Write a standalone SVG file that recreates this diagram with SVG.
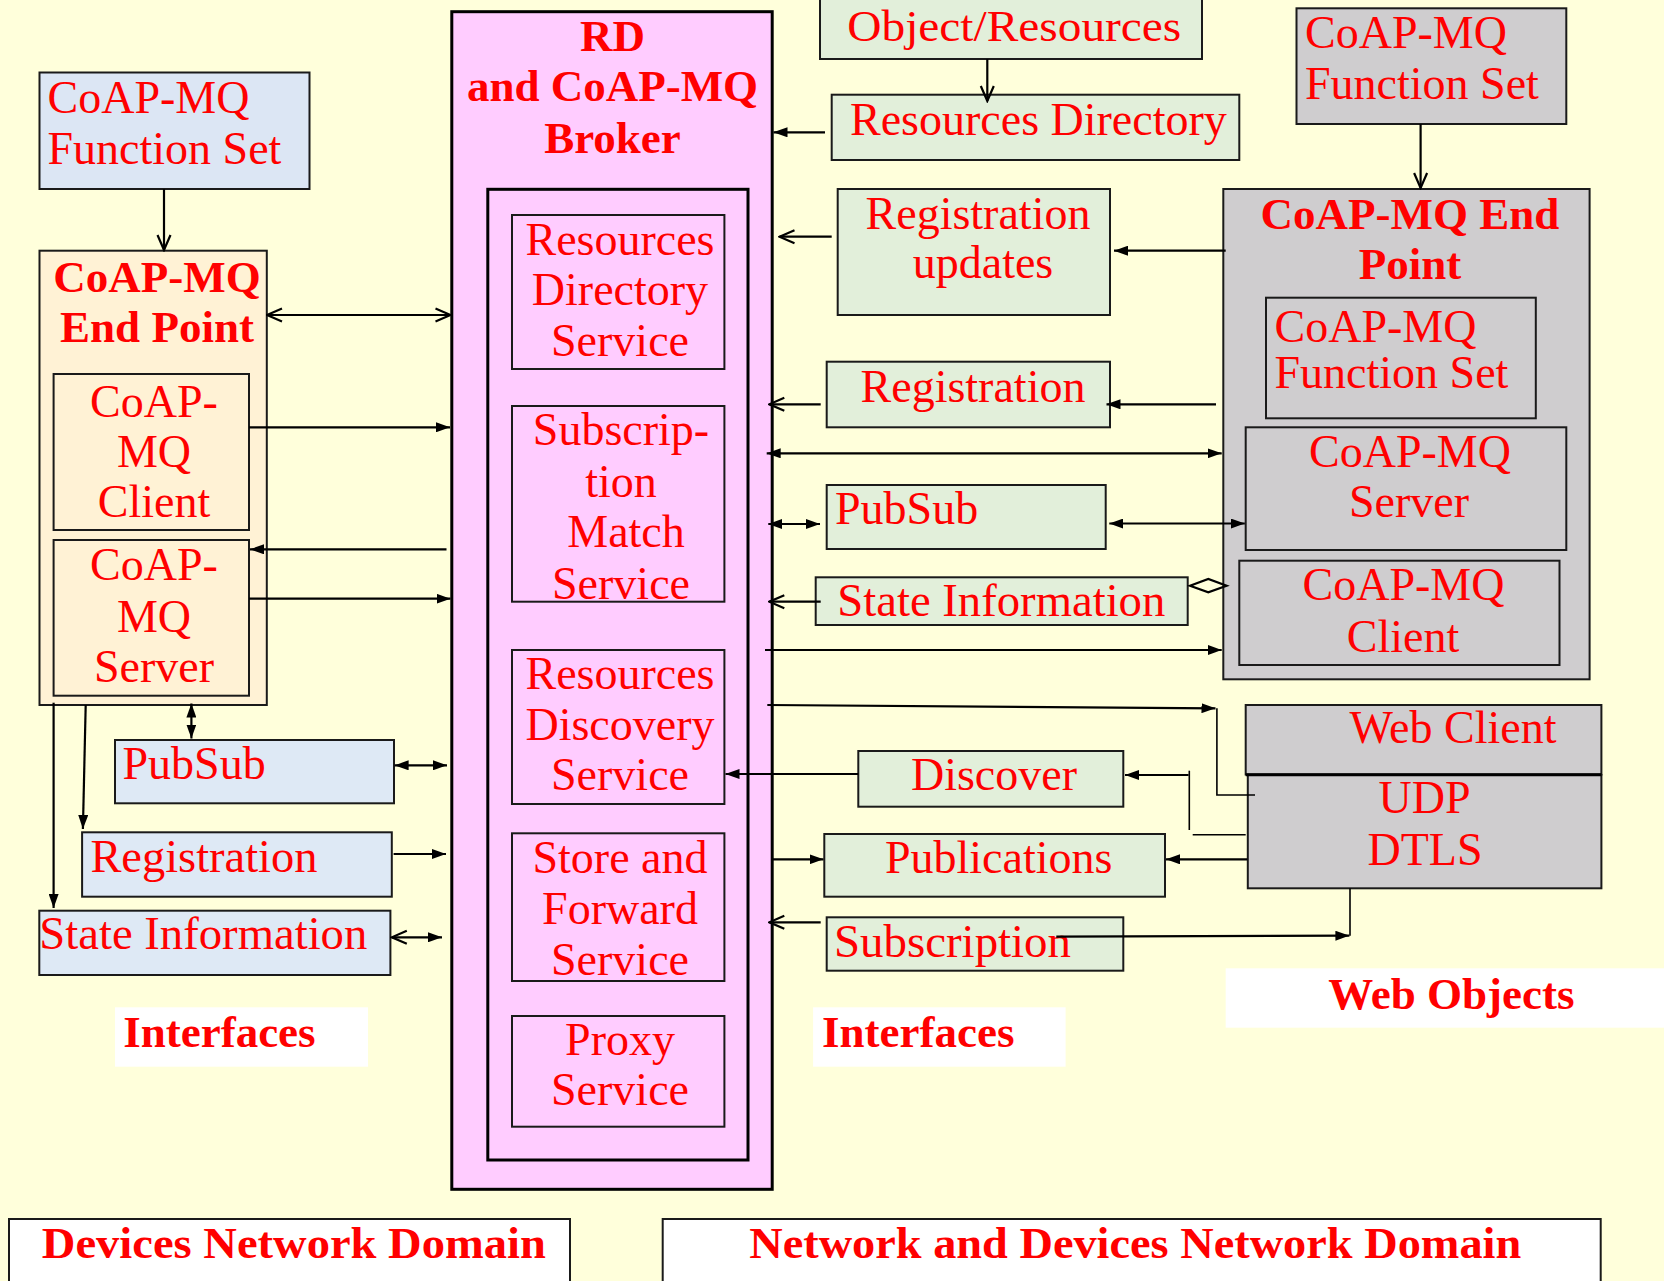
<svg xmlns="http://www.w3.org/2000/svg" width="1664" height="1281" viewBox="0 0 1664 1281">
  <defs>
    <style>
      .t { font-family: "Liberation Serif", "DejaVu Serif", serif; font-size: 46px; fill: #ff0000; }
      .b { font-family: "Liberation Serif", "DejaVu Serif", serif; font-size: 45px; font-weight: bold; fill: #ff0000; }
      .m { text-anchor: middle; }
      .box { stroke: #1a1a1a; stroke-width: 2; }
      .blue { fill: #dce6f4; }
      .cream { fill: #fff2d5; }
      .green { fill: #e2efda; }
      .gray { fill: #cfcdcf; }
      .pink { fill: #ffccff; }
      .white { fill: #ffffff; }
      .heavy { stroke: #000; stroke-width: 3; }
      .ln { fill: none; stroke: #000; stroke-width: 2.2; }
      .thin { fill: none; stroke: #000; stroke-width: 1.6; }
    </style>
    <marker id="tri" viewBox="0 0 14 10" refX="14" refY="5" markerWidth="14" markerHeight="10" markerUnits="userSpaceOnUse" orient="auto-start-reverse">
      <path d="M0,0 L14,5 L0,10 z" fill="#000"/>
    </marker>
    <marker id="vee" viewBox="0 0 18 16" refX="16.5" refY="8" markerWidth="18" markerHeight="16" markerUnits="userSpaceOnUse" orient="auto-start-reverse">
      <path d="M1.5,1.5 L16.5,8 L1.5,14.5" fill="none" stroke="#000" stroke-width="2.2"/>
    </marker>
  </defs>

  <!-- page background -->
  <rect x="0" y="0" width="1664" height="1281" fill="#ffffdb"/>

  <!-- ===== left side: device end point and its interfaces ===== -->
  <g id="fs-left">
    <rect class="box blue" x="39.5" y="72.5" width="270" height="116.5"/>
    <text class="t" x="47.5" y="113.3">CoAP-MQ</text>
    <text class="t" x="47.5" y="164">Function Set</text>
  </g>

  <g id="ep-left">
    <rect class="box cream" x="39.5" y="250.7" width="227.3" height="454.3"/>
    <text class="b m" x="157" y="291.7">CoAP-MQ</text>
    <text class="b m" x="157" y="341.7">End Point</text>
  </g>
  <g id="ep-left-client">
    <rect class="box cream" x="53.6" y="374" width="195.4" height="156"/>
    <text class="t m" x="154" y="416.7">CoAP-</text>
    <text class="t m" x="154" y="466.7">MQ</text>
    <text class="t m" x="154" y="516.7">Client</text>
  </g>
  <g id="ep-left-server">
    <rect class="box cream" x="53.6" y="540" width="195.4" height="155.7"/>
    <text class="t m" x="154" y="580">CoAP-</text>
    <text class="t m" x="154" y="631.7">MQ</text>
    <text class="t m" x="154" y="681.7">Server</text>
  </g>

  <g id="pubsub-left">
    <rect class="box" fill="#dee9f5" x="115" y="740" width="279" height="63.3"/>
    <text class="t" x="122.5" y="779.3">PubSub</text>
  </g>
  <g id="registration-left">
    <rect class="box" fill="#dee9f5" x="82.1" y="832.3" width="309.7" height="64.4"/>
    <text class="t" x="90.4" y="871.7" textLength="227" lengthAdjust="spacingAndGlyphs">Registration</text>
  </g>
  <g id="state-left">
    <rect class="box" fill="#dee9f5" x="39.3" y="910.7" width="351.1" height="64.3"/>
    <text class="t" x="39.3" y="949.3" textLength="328" lengthAdjust="spacingAndGlyphs">State Information</text>
  </g>
  <g id="interfaces-left">
    <rect class="white" x="115" y="1007.3" width="253" height="59.4"/>
    <text class="b" x="123.2" y="1047.3">Interfaces</text>
  </g>
  <g id="domain-devices">
    <rect class="box white" x="9" y="1219" width="561" height="80"/>
    <text class="b" x="41.8" y="1258.3" textLength="504" lengthAdjust="spacingAndGlyphs">Devices Network Domain</text>
  </g>

  <!-- ===== broker ===== -->
  <g id="broker">
    <rect class="pink heavy" x="451.8" y="11.7" width="320.4" height="1177.6"/>
    <text class="b m" x="612.5" y="50.7">RD</text>
    <text class="b m" x="612.5" y="100.7">and CoAP-MQ</text>
    <text class="b m" x="612.5" y="152.7">Broker</text>
    <rect class="heavy" fill="none" x="487.8" y="189.3" width="260.2" height="970.7"/>
  </g>
  <g id="svc-rd">
    <rect class="box pink" x="512" y="215" width="212.4" height="154"/>
    <text class="t m" x="620" y="255">Resources</text>
    <text class="t m" x="620" y="305">Directory</text>
    <text class="t m" x="620" y="356">Service</text>
  </g>
  <g id="svc-sub">
    <rect class="box pink" x="512" y="406" width="212.4" height="195.7"/>
    <text class="t m" x="621" y="445">Subscrip-</text>
    <text class="t m" x="621" y="496.7">tion</text>
    <text class="t m" x="626" y="547.3">Match</text>
    <text class="t m" x="621" y="599">Service</text>
  </g>
  <g id="svc-disc">
    <rect class="box pink" x="512" y="650" width="212.4" height="154"/>
    <text class="t m" x="620" y="689.3">Resources</text>
    <text class="t m" x="620" y="740">Discovery</text>
    <text class="t m" x="620" y="790">Service</text>
  </g>
  <g id="svc-sf">
    <rect class="box pink" x="512" y="833.3" width="212.4" height="147.7"/>
    <text class="t m" x="620" y="872.7">Store and</text>
    <text class="t m" x="620" y="924">Forward</text>
    <text class="t m" x="620" y="975">Service</text>
  </g>
  <g id="svc-proxy">
    <rect class="box pink" x="512" y="1016" width="212.4" height="110.7"/>
    <text class="t m" x="620" y="1055">Proxy</text>
    <text class="t m" x="620" y="1105">Service</text>
  </g>

  <!-- ===== right-hand interfaces ===== -->
  <g id="obj-res">
    <rect class="box green" x="820" y="-10" width="382" height="69"/>
    <text class="t" x="847.3" y="41" style="font-size:45px" textLength="334" lengthAdjust="spacingAndGlyphs">Object/Resources</text>
  </g>
  <g id="res-dir">
    <rect class="box green" x="831.7" y="94.7" width="407.6" height="65.3"/>
    <text class="t" x="850" y="135">Resources Directory</text>
  </g>
  <g id="reg-updates">
    <rect class="box green" x="837.7" y="189" width="272.3" height="126"/>
    <text class="t m" x="978" y="229.3">Registration</text>
    <text class="t m" x="983" y="278.3">updates</text>
  </g>
  <g id="registration-right">
    <rect class="box green" x="826.7" y="361.7" width="283.3" height="65.6"/>
    <text class="t m" x="973" y="401.7">Registration</text>
  </g>
  <g id="pubsub-right">
    <rect class="box green" x="826.7" y="485" width="279" height="64"/>
    <text class="t" x="835" y="524">PubSub</text>
  </g>
  <g id="state-right">
    <rect class="box green" x="815.7" y="577.3" width="372" height="47.7"/>
    <text class="t" x="837.3" y="616" textLength="328" lengthAdjust="spacingAndGlyphs">State Information</text>
  </g>
  <g id="discover">
    <rect class="box green" x="858.3" y="751" width="265" height="55.7"/>
    <text class="t m" x="994" y="790">Discover</text>
  </g>
  <g id="publications">
    <rect class="box green" x="824.3" y="834" width="340.7" height="62.7"/>
    <text class="t m" x="998.7" y="873.3">Publications</text>
  </g>
  <g id="subscription">
    <rect class="box green" x="826.7" y="917.3" width="296.6" height="53.4"/>
    <text class="t" x="834" y="956.7" textLength="237" lengthAdjust="spacingAndGlyphs">Subscription</text>
  </g>
  <g id="interfaces-right">
    <rect class="white" x="813.1" y="1007.3" width="252.5" height="59.4"/>
    <text class="b" x="822" y="1046.7">Interfaces</text>
  </g>

  <!-- ===== right side: web end point ===== -->
  <g id="fs-right">
    <rect class="box gray" x="1296.5" y="8.3" width="269.8" height="115.7"/>
    <text class="t" x="1305" y="47.7">CoAP-MQ</text>
    <text class="t" x="1305" y="99">Function Set</text>
  </g>
  <g id="ep-right">
    <rect class="box gray" x="1223.3" y="189" width="366.3" height="490.3"/>
    <text class="b m" x="1410" y="229.3">CoAP-MQ End</text>
    <text class="b m" x="1410" y="279.3">Point</text>
  </g>
  <g id="ep-right-fs">
    <rect class="box gray" x="1266" y="297.7" width="269.8" height="120.6"/>
    <text class="t" x="1274.5" y="341.7">CoAP-MQ</text>
    <text class="t" x="1274.5" y="388.3">Function Set</text>
  </g>
  <g id="ep-right-server">
    <rect class="box gray" x="1245.7" y="427.3" width="320.6" height="122.7"/>
    <text class="t m" x="1410" y="466.7">CoAP-MQ</text>
    <text class="t m" x="1409" y="517.3">Server</text>
  </g>
  <g id="ep-right-client">
    <rect class="box gray" x="1239.3" y="560.7" width="320.2" height="104.3"/>
    <text class="t m" x="1403.5" y="600">CoAP-MQ</text>
    <text class="t m" x="1403" y="651.7">Client</text>
  </g>
  <g id="web-client">
    <rect class="box gray" x="1245.7" y="705" width="355.7" height="69.5"/>
    <text class="t" x="1349.4" y="743.3">Web Client</text>
  </g>
  <g id="udp-dtls">
    <rect class="box gray" x="1247.8" y="775" width="353.6" height="113.3"/>
    <line x1="1245.7" y1="774.7" x2="1601.4" y2="774.7" stroke="#000" stroke-width="3"/>
    <text class="t m" x="1424.5" y="813.3">UDP</text>
    <text class="t m" x="1425" y="865">DTLS</text>
  </g>
  <g id="web-objects">
    <rect class="white" x="1225.7" y="968.3" width="438.3" height="59.4"/>
    <text class="b" x="1328.3" y="1009">Web Objects</text>
  </g>
  <g id="domain-network">
    <rect class="box white" x="662.7" y="1219" width="938" height="80"/>
    <text class="b" x="749.2" y="1258.3" textLength="772" lengthAdjust="spacingAndGlyphs">Network and Devices Network Domain</text>
  </g>

  <!-- ===== connectors ===== -->
  <g id="connectors">
    <!-- left side -->
    <path class="ln" d="M164,189 V250" marker-end="url(#vee)"/>
    <path class="ln" d="M267,315 H450.5" marker-start="url(#vee)" marker-end="url(#vee)"/>
    <path class="ln" d="M249,427.3 H450" marker-end="url(#tri)"/>
    <path class="ln" d="M446.5,549.3 H250" marker-end="url(#tri)"/>
    <path class="ln" d="M249,598.7 H450.5" marker-end="url(#tri)"/>
    <path class="ln" d="M53.6,702.7 V908" marker-end="url(#tri)"/>
    <path class="ln" d="M85.7,705 L82.9,829" marker-end="url(#tri)"/>
    <path class="ln" d="M191.4,703.5 V738.5" marker-start="url(#tri)" marker-end="url(#tri)"/>
    <path class="ln" d="M394.6,765.3 H447" marker-start="url(#tri)" marker-end="url(#tri)"/>
    <path class="ln" d="M393.6,854 H446" marker-end="url(#tri)"/>
    <path class="ln" d="M391.8,937.3 H442" marker-start="url(#vee)" marker-end="url(#tri)"/>

    <!-- right side, broker interfaces -->
    <path class="ln" d="M987.3,59 V101" marker-end="url(#vee)"/>
    <path class="ln" d="M825,132.3 H773.5" marker-end="url(#tri)"/>
    <path class="ln" d="M831.7,236.7 H779.5" marker-end="url(#vee)"/>
    <path class="ln" d="M1420.6,124 V188" marker-end="url(#vee)"/>
    <path class="ln" d="M1225.7,250.7 H1114" marker-end="url(#tri)"/>
    <path class="ln" d="M820.7,404.3 H769.3" marker-end="url(#vee)"/>
    <path class="ln" d="M1216,404.3 H1106.5" marker-end="url(#tri)"/>
    <path class="ln" d="M766.7,453.3 H1221.7" marker-start="url(#tri)" marker-end="url(#tri)"/>
    <path class="ln" d="M768.3,524 H820" marker-start="url(#tri)" marker-end="url(#tri)"/>
    <path class="ln" d="M1109.3,523.5 H1244.8" marker-start="url(#tri)" marker-end="url(#tri)"/>
    <path class="ln" d="M820.7,601.7 H769.3" marker-end="url(#vee)"/>
    <path d="M1190,585.7 L1208.3,579 L1226.6,585.7 L1208.3,592.4 z" fill="none" stroke="#000" stroke-width="2.2"/>
    <path class="ln" d="M765,650 H1221.7" marker-end="url(#tri)"/>

    <!-- broker to web client -->
    <path class="ln" d="M767.3,705 L1215.5,708.3" marker-end="url(#tri)"/>
    <path class="thin" d="M1216.9,708.3 V795 H1255"/>

    <!-- discovery path -->
    <path class="ln" d="M858.3,774 H725.5" marker-end="url(#tri)"/>
    <path class="ln" d="M1188.6,775 H1125" marker-end="url(#tri)"/>
    <path class="thin" d="M1189.3,770.7 V830"/>
    <path class="thin" d="M1192.7,834.7 H1245.7"/>

    <!-- publications / subscription -->
    <path class="ln" d="M773,859.3 H823.5" marker-end="url(#tri)"/>
    <path class="ln" d="M1247.3,859.3 H1166" marker-end="url(#tri)"/>
    <path class="ln" d="M820.7,922.3 H769.3" marker-end="url(#vee)"/>
    <path class="ln" d="M1056.3,936.7 L1349.4,935.7" marker-end="url(#tri)"/>
    <path class="thin" d="M1350,935.7 V888.3"/>
  </g>
</svg>
